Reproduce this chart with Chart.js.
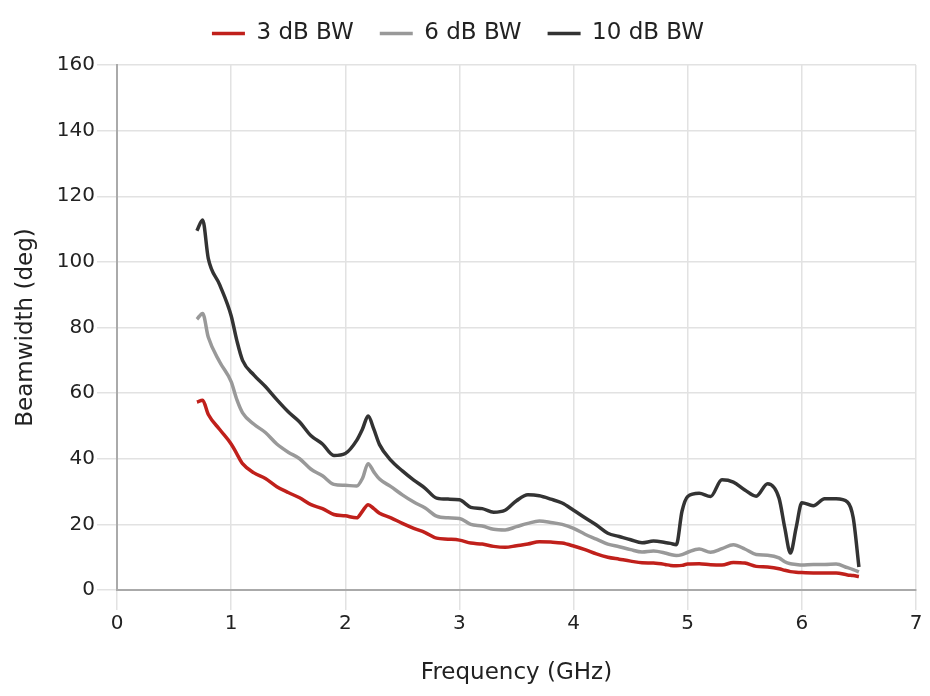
<!DOCTYPE html>
<html>
<head>
<meta charset="utf-8">
<script src="https://cdn.jsdelivr.net/npm/chart.js@4.4.1/dist/chart.umd.min.js"></script>
<style>
    html, body { margin: 0; padding: 0; background: #fff; }
    #wrap { width: 930px; height: 696px; }
</style>
</head>
<body>
<div id="wrap"><canvas id="bwChart" width="930" height="696"></canvas></div>
<script>
// frequency in GHz
const freqs = [0.70, 0.75, 0.80, 0.90, 1.00, 1.05, 1.10, 1.20, 1.30, 1.40, 1.50, 1.60, 1.70, 1.80, 1.90,
    2.00, 2.10, 2.15, 2.20, 2.25, 2.30, 2.40, 2.50, 2.60, 2.70, 2.80, 2.90, 3.00, 3.10, 3.20, 3.30, 3.40,
    3.50, 3.60, 3.70, 3.80, 3.90, 4.00, 4.10, 4.20, 4.30, 4.40, 4.50, 4.60, 4.70, 4.80, 4.85, 4.90, 4.95,
    5.00, 5.10, 5.20, 5.30, 5.40, 5.50, 5.60, 5.70, 5.80, 5.85, 5.90, 5.95, 6.00, 6.10, 6.20, 6.30, 6.40,
    6.45, 6.50];

// beamwidth in degrees
const bw3 = [57.3, 57.8, 53.5, 48.9, 44.5, 41.5, 38.5, 35.7, 34.0, 31.5, 29.7, 28.1, 26.0, 24.8, 23.0,
    22.6, 22.0, 24.0, 26.0, 24.8, 23.4, 22.0, 20.3, 18.8, 17.5, 15.8, 15.5, 15.2, 14.3, 14.0, 13.3, 13.0,
    13.5, 14.0, 14.7, 14.6, 14.3, 13.4, 12.3, 11.0, 10.0, 9.4, 8.8, 8.3, 8.2, 7.8, 7.5, 7.4, 7.5,
    7.9, 8.0, 7.7, 7.6, 8.4, 8.2, 7.2, 7.0, 6.5, 6.0, 5.6, 5.4, 5.3, 5.2, 5.2, 5.2, 4.6,
    4.4, 4.1];

const bw6 = [82.5, 84.3, 77.0, 69.5, 63.5, 58.0, 54.0, 50.5, 48.0, 44.5, 42.0, 40.0, 36.8, 34.8, 32.2,
    31.9, 31.7, 34.0, 38.5, 36.0, 33.8, 31.5, 29.0, 26.8, 25.0, 22.5, 22.0, 21.8, 20.0, 19.5, 18.5, 18.3,
    19.3, 20.3, 21.0, 20.6, 20.0, 18.8, 17.0, 15.5, 14.0, 13.2, 12.3, 11.6, 11.9, 11.3, 10.8, 10.5, 10.8,
    11.5, 12.5, 11.5, 12.6, 13.8, 12.5, 10.8, 10.6, 9.8, 8.6, 8.0, 7.8, 7.6, 7.8, 7.8, 7.9, 6.8,
    6.2, 5.5];

const bw10 = [109.5, 112.8, 101.0, 93.0, 83.6, 76.0, 70.0, 65.5, 62.0, 58.0, 54.3, 51.2, 47.0, 44.5, 41.0,
    41.6, 45.6, 49.0, 53.0, 49.0, 44.3, 39.5, 36.3, 33.5, 31.0, 28.0, 27.7, 27.5, 25.2, 24.8, 23.7, 24.3,
    27.2, 29.0, 28.7, 27.7, 26.5, 24.3, 22.0, 19.8, 17.3, 16.3, 15.3, 14.4, 14.9, 14.5, 14.2, 13.8, 24.0,
    28.5, 29.5, 28.5, 33.6, 32.9, 30.5, 28.6, 32.4, 28.0, 19.0, 11.3, 19.0, 26.6, 25.7, 27.8, 27.8, 26.8,
    22.0, 7.0];

const yTicks = [0, 20, 40, 60, 80, 100, 120, 140, 160];
const xTicks = [0, 1, 2, 3, 4, 5, 6, 7];

const fontFamily = "'DejaVu Sans', sans-serif";
const textColor = '#222222';

function toPoints(values) {
    return freqs.map((f, i) => ({ x: f, y: values[i] }));
}

function makeSet(label, values, color) {
    return {
        label: label,
        data: toPoints(values),
        borderColor: color,
        backgroundColor: color,
        borderWidth: 3.5,
        pointRadius: 0,
        cubicInterpolationMode: 'monotone',
        fill: false
    };
}

// draw the legend a little higher than its layout box
const legendLift = {
    id: 'legendLift',
    beforeInit(chart) {
        const draw = chart.legend.draw;
        chart.legend.draw = function () {
            const c = this.ctx;
            c.save();
            c.translate(0, -10);
            draw.call(this);
            c.restore();
        };
    }
};

const ctx = document.getElementById('bwChart').getContext('2d');
new Chart(ctx, {
    type: 'line',
    data: {
        datasets: [
            makeSet('3 dB BW', bw3, '#c0201b'),
            makeSet('6 dB BW', bw6, '#999999'),
            makeSet('10 dB BW', bw10, '#333333')
        ]
    },
    plugins: [legendLift],
    options: {
        responsive: false,
        animation: false,
        layout: { padding: { top: 6, right: 14, bottom: 0, left: 0 } },
        plugins: {
            legend: {
                position: 'top',
                labels: {
                    usePointStyle: true,
                    pointStyle: 'line',
                    pointStyleWidth: 33,
                    color: textColor,
                    font: { family: fontFamily, size: 23 },
                    padding: 26
                }
            },
            tooltip: { enabled: false }
        },
        scales: {
            x: {
                type: 'linear',
                min: 0,
                max: 7,
                afterBuildTicks: axis => { axis.ticks = xTicks.map(v => ({ value: v })); },
                afterFit: axis => { axis.height = 106; },
                grid: { color: '#e2e2e2', lineWidth: 1.5, tickLength: 20 },
                border: { color: '#aaaaaa', width: 2 },
                ticks: { color: textColor, font: { family: fontFamily, size: 20 }, padding: 2 },
                title: {
                    display: true,
                    text: 'Frequency (GHz)',
                    color: textColor,
                    font: { family: fontFamily, size: 23 },
                    padding: { top: 8, bottom: 9 }
                }
            },
            y: {
                min: 0,
                max: 160,
                afterBuildTicks: axis => { axis.ticks = yTicks.map(v => ({ value: v })); },
                afterFit: axis => { axis.width = 117; },
                grid: { color: '#e2e2e2', lineWidth: 1.5, tickLength: 20 },
                border: { color: '#aaaaaa', width: 2 },
                ticks: { color: textColor, font: { family: fontFamily, size: 20 }, padding: 2 },
                title: {
                    display: true,
                    text: 'Beamwidth (deg)',
                    color: textColor,
                    font: { family: fontFamily, size: 23 },
                    padding: { top: 12, bottom: 4 }
                }
            }
        }
    }
});
</script>
</body>
</html>
